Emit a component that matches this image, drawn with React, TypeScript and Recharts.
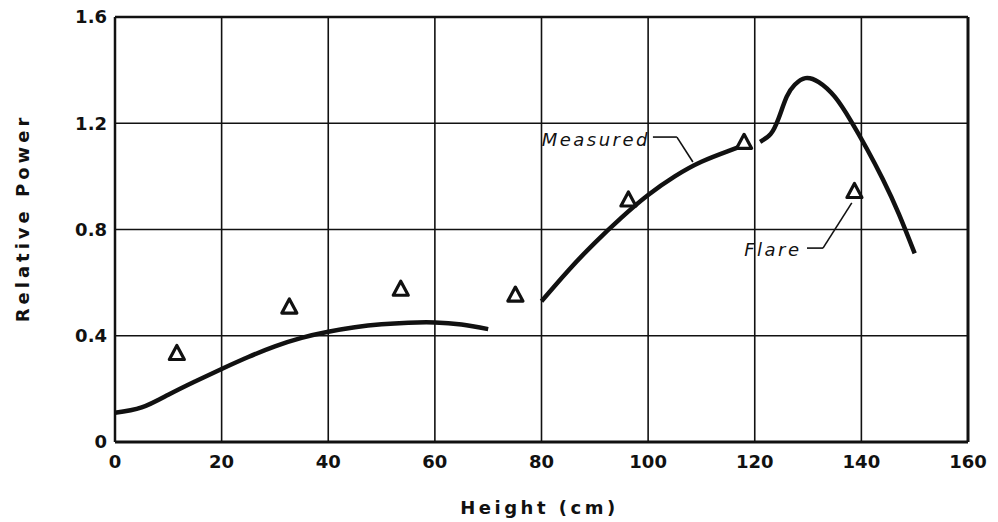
import { ComposedChart, Line, Scatter, XAxis, YAxis, CartesianGrid, ReferenceLine, ReferenceDot } from 'recharts';

// tick values
const xTicks = [0, 20, 40, 60, 80, 100, 120, 140, 160];
const yTicks = [0, 0.4, 0.8, 1.2, 1.6];

// measured curve, lower part (0 - 70 cm)
const lowerCurve = [
  { x: 0, y: 0.11 }, { x: 5, y: 0.13 }, { x: 10, y: 0.178 }, { x: 15, y: 0.228 },
  { x: 20, y: 0.275 }, { x: 25, y: 0.32 }, { x: 30, y: 0.36 }, { x: 35, y: 0.392 },
  { x: 40, y: 0.415 }, { x: 45, y: 0.432 }, { x: 50, y: 0.443 }, { x: 55, y: 0.449 },
  { x: 60, y: 0.45 }, { x: 65, y: 0.442 }, { x: 70, y: 0.425 },
];

// measured curve, middle part (80 - 117 cm)
const middleCurve = [
  { x: 80, y: 0.53 }, { x: 85, y: 0.645 }, { x: 90, y: 0.75 }, { x: 95, y: 0.845 },
  { x: 100, y: 0.93 }, { x: 105, y: 1.0 }, { x: 110, y: 1.055 }, { x: 115, y: 1.095 },
  { x: 117, y: 1.11 },
];

// measured curve, upper part (121 - 150 cm)
const upperCurve = [
  { x: 121, y: 1.13 }, { x: 123, y: 1.16 }, { x: 124.5, y: 1.22 }, { x: 126, y: 1.3 },
  { x: 127.5, y: 1.345 }, { x: 129.5, y: 1.37 }, { x: 132, y: 1.355 }, { x: 135, y: 1.3 },
  { x: 138, y: 1.21 }, { x: 141, y: 1.105 }, { x: 144, y: 0.99 }, { x: 147, y: 0.86 },
  { x: 150, y: 0.71 },
];

// flare points (triangles)
const flarePoints = [
  { x: 11.6, y: 0.335 }, { x: 32.7, y: 0.51 }, { x: 53.6, y: 0.577 }, { x: 75.1, y: 0.555 },
  { x: 96.3, y: 0.913 }, { x: 118, y: 1.13 }, { x: 138.7, y: 0.945 },
];

const ink = '#111';
const font = '"DejaVu Sans", sans-serif';

const Triangle = (props: any) => {
  const { cx, cy } = props;
  const w = 7.5, h = 13;
  return (
    <path
      d={`M${cx},${cy - h / 2 - 1} L${cx + w},${cy + h / 2} L${cx - w},${cy + h / 2} Z`}
      fill="#fff"
      stroke={ink}
      strokeWidth={3.2}
      strokeLinejoin="round"
    />
  );
};

const note = (text: string) => (props: any) => {
  const { viewBox } = props;
  return (
    <text
      x={viewBox.x}
      y={viewBox.y}
      textAnchor="middle"
      dominantBaseline="central"
      fontFamily={font}
      fontStyle="italic"
      fontSize={18}
      letterSpacing={2.5}
      fill={ink}
    >
      {text}
    </text>
  );
};

export default function App() {
  return (
    <div style={{ position: 'absolute', left: 0, top: 0, width: 998, height: 522, background: '#fff' }}>
      <ComposedChart width={998} height={522} margin={{ top: 17, right: 30, left: 0, bottom: 0 }}>
        <CartesianGrid stroke={ink} strokeWidth={1.6} />
        <XAxis
          type="number"
          dataKey="x"
          domain={[0, 160]}
          ticks={xTicks}
          height={80}
          tickSize={0}
          tickMargin={13}
          axisLine={{ stroke: ink, strokeWidth: 3 }}
          tick={{ fill: ink, fontSize: 18, fontWeight: 'bold', fontFamily: font }}
          label={{
            content: (p: any) => (
              <text
                x={p.viewBox.x + p.viewBox.width / 2 - 2}
                y={p.viewBox.y + 65}
                textAnchor="middle"
                dominantBaseline="central"
                fontFamily={font}
                fontWeight="bold"
                fontSize={18}
                letterSpacing={3.5}
                fill={ink}
              >
                Height (cm)
              </text>
            ),
          }}
        />
        <YAxis
          type="number"
          domain={[0, 1.6]}
          ticks={yTicks}
          width={115}
          tickSize={0}
          tickMargin={8}
          axisLine={{ stroke: ink, strokeWidth: 2.5 }}
          tickFormatter={(v: number) => (v === 0 ? '0' : v.toFixed(1))}
          tick={{ fill: ink, fontSize: 18, fontWeight: 'bold', fontFamily: font }}
          label={{
            content: () => (
              <text
                x={22}
                y={218}
                textAnchor="middle"
                dominantBaseline="central"
                transform="rotate(-90 22 218)"
                fontFamily={font}
                fontWeight="bold"
                fontSize={18}
                letterSpacing={4}
                fill={ink}
              >
                Relative Power
              </text>
            ),
          }}
        />
        <ReferenceLine y={1.6} stroke={ink} strokeWidth={2.5} />
        <ReferenceLine x={160} stroke={ink} strokeWidth={3} />

        <Line data={lowerCurve} dataKey="y" type="natural" stroke={ink} strokeWidth={4.5} dot={false} isAnimationActive={false} />
        <Line data={middleCurve} dataKey="y" type="natural" stroke={ink} strokeWidth={4.5} dot={false} isAnimationActive={false} />
        <Line data={upperCurve} dataKey="y" type="natural" stroke={ink} strokeWidth={4.5} dot={false} isAnimationActive={false} />
        <Scatter data={flarePoints} dataKey="y" shape={Triangle} isAnimationActive={false} />

        {/* leader for "Measured" */}
        <ReferenceLine segment={[{ x: 100.9, y: 1.148 }, { x: 105.4, y: 1.148 }]} stroke={ink} strokeWidth={1.6} />
        <ReferenceLine segment={[{ x: 105.4, y: 1.148 }, { x: 108.4, y: 1.054 }]} stroke={ink} strokeWidth={1.6} />
        <ReferenceDot x={90.2} y={1.137} r={0} fill="none" stroke="none" label={{ content: note('Measured') }} />

        {/* leader for "Flare" */}
        <ReferenceLine segment={[{ x: 129.8, y: 0.73 }, { x: 132.8, y: 0.73 }]} stroke={ink} strokeWidth={1.6} />
        <ReferenceLine segment={[{ x: 132.8, y: 0.73 }, { x: 138.2, y: 0.9 }]} stroke={ink} strokeWidth={1.6} />
        <ReferenceDot x={123.4} y={0.723} r={0} fill="none" stroke="none" label={{ content: note('Flare') }} />
      </ComposedChart>
    </div>
  );
}
